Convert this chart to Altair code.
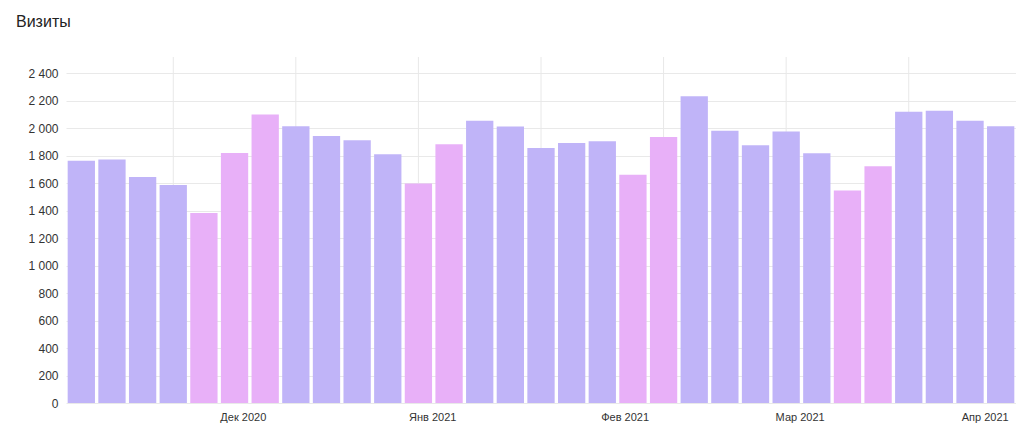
import altair as alt
import pandas as pd

# Daily visits (31 bars), weekend flag (pink bars)
visits = [1765, 1773, 1646, 1588, 1384, 1821, 2101, 2016, 1945, 1913,
          1811, 1598, 1884, 2055, 2013, 1858, 1894, 1906, 1663, 1938,
          2234, 1982, 1877, 1977, 1819, 1547, 1724, 2121, 2128, 2055, 2016]
weekend = [0, 0, 0, 0, 1, 1, 1, 0, 0, 0,
           0, 1, 1, 0, 0, 0, 0, 0, 1, 1,
           0, 0, 0, 0, 0, 1, 1, 0, 0, 0, 0]

# Month tick labels and their positions on the bar-index axis
month_labels = ["Дек 2020", "Янв 2021", "Фев 2021", "Мар 2021", "Апр 2021"]
month_ticks = [6.27, 12.45, 18.73, 24.44, 30.48]
grid_ticks = [4, 8, 12, 16, 20, 24, 28]
y_ticks = list(range(0, 2401, 200))

df = pd.DataFrame({
    "idx": list(range(1, len(visits) + 1)),
    "visits": visits,
    "kind": ["выходные" if w else "будни" for w in weekend],
})
grid_df = pd.DataFrame({"g": grid_ticks})

# label expression built from the lists
expr = "''"
for t, lab in reversed(list(zip(month_ticks, month_labels))):
    expr = f"abs(datum.value - {t}) < 0.01 ? '{lab}' : ({expr})"

FONT = "Liberation Sans"
xscale = alt.Scale(domain=[0.5, 31.5], nice=False, zero=False, padding=0)
xaxis = alt.Axis(values=month_ticks, labelExpr=expr, grid=False,
                 ticks=False, domain=False, title=None,
                 labelFont=FONT, labelFontSize=11, labelColor="#333333",
                 labelPadding=8, labelFlush=False, labelOverlap=False)

grid = alt.Chart(grid_df).mark_rule(color="#e8e8e8", strokeWidth=1).encode(
    x=alt.X("g:Q", scale=xscale, axis=xaxis)
)

bars = alt.Chart(df).mark_bar(size=27.3).encode(
    x=alt.X("idx:Q", scale=xscale, axis=xaxis),
    y=alt.Y("visits:Q", scale=alt.Scale(domain=[0, 2520], nice=False),
            axis=alt.Axis(values=y_ticks, grid=True, gridColor="#e9e9e9",
                          ticks=False, domain=False, title=None,
                          labelFont=FONT, labelFontSize=12, labelColor="#333333",
                          labelPadding=8,
                          labelExpr="replace(format(datum.value, ','), ',', ' ')")),
    color=alt.Color("kind:N", scale=alt.Scale(domain=["будни", "выходные"],
                                              range=["#c0b4f8", "#e8b0f8"]),
                    legend=None),
)

chart = alt.layer(grid, bars).properties(
    width=950, height=346,
    title=alt.TitleParams("Визиты", anchor="start", frame="group", dx=-50,
                          offset=27, font=FONT, fontSize=16, fontWeight="normal",
                          color="#222222"),
    autosize=alt.AutoSizeParams(type="none"),
    padding={"left": 58, "top": 49, "right": 0, "bottom": 22},
).configure_view(stroke=None)

chart.save("out.html", embed_options={"renderer": "svg", "actions": False})
